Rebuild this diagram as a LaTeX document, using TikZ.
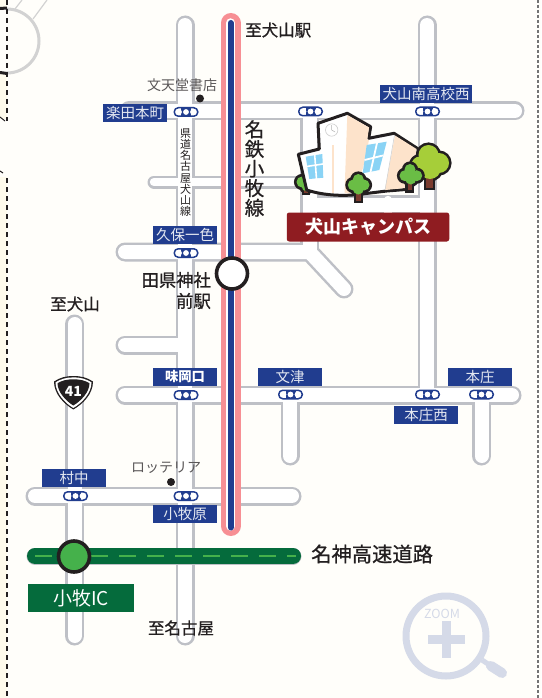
\documentclass[tikz,border=0pt]{standalone}
\usepackage{fontspec}
\setmainfont{Noto Sans CJK JP}
\newfontfamily\mapfont[FakeBold=0.7]{Noto Sans CJK JP}
\definecolor{bgc}{HTML}{FFFEFA}
\definecolor{stripc}{HTML}{FFFBEC}
\definecolor{roadedge}{HTML}{BEC0C6}
\definecolor{railpink}{HTML}{F78F94}
\definecolor{navy}{HTML}{213D8F}
\definecolor{hwdark}{HTML}{056B3C}
\definecolor{hwlight}{HTML}{45B14B}
\definecolor{maroon}{HTML}{8F1C21}
\definecolor{ink}{HTML}{231F20}
\definecolor{zoomc}{HTML}{D5DAE8}
\definecolor{peach}{HTML}{FDE3CB}
\definecolor{winc}{HTML}{8AD3F5}
\definecolor{treea}{HTML}{A6CE39}
\definecolor{treeb}{HTML}{6ABD45}
\definecolor{trunk}{HTML}{7A3B2E}
\tikzset{
  stationlabel/.style={fill=navy,text=white!88!navy,inner sep=0pt,minimum width=64pt,minimum height=18pt,font=\fontsize{14.5}{15}\selectfont},
  maptext/.style={text=ink,inner sep=0pt,font=\mapfont\fontsize{16.5}{20}\selectfont},
  shoptext/.style={text=ink!75,inner sep=0pt,font=\fontsize{14}{15}\selectfont},
  roado/.style={draw=roadedge,line width=19pt,line cap=round},
  roadi/.style={draw=white,line width=14pt,line cap=round},
  thino/.style={draw=roadedge,line width=13pt,line cap=round},
  thini/.style={draw=white,line width=8.4pt,line cap=round},
}
\newcommand{\roadset}[1]{%
  \draw[#1] (185,25) -- (185,636);
  \draw[#1] (74.5,324) -- (74.5,636);
  \draw[#1] (129,111) -- (515,111);
  \draw[#1] (427,25) -- (427,394);
  \draw[#1] (309.5,111) -- (309.5,252);
  \draw[#1] (125,252) -- (309.5,252) -- (344,289);
  \draw[#1] (125,345) -- (185,345);
  \draw[#1] (125,395) -- (512,395);
  \draw[#1] (290,395) -- (290,456);
  \draw[#1] (481.5,395) -- (481.5,456);
  \draw[#1] (35,496) -- (292,496);
  \draw[#1] (310,204.5) -- (427,204.5);
}
\newcommand{\signal}[3]{%
  \node[draw=navy,fill=white,line width=1.5pt,rounded corners=4pt,minimum width=23.5pt,minimum height=8.5pt,inner sep=0pt] (#3) at (#1,#2) {};
  \fill[navy] (#1-5,#2-4) rectangle (#1+5,#2+4);
  \fill[white] (#1-7,#2) circle (2.9pt) (#1,#2) circle (2.9pt) (#1+7,#2) circle (2.9pt);
}
\newcommand{\treeblob}[4]{%
  \foreach \cx/\cy/\rr in {#1} {\fill[ink] (\cx,\cy) circle[radius={(\rr+2.6)*1pt}];}
  \fill[ink] #3;
  \fill[trunk] #4;
  \foreach \cx/\cy/\rr in {#1} {\fill[#2] (\cx,\cy) circle[radius={\rr*1pt}];}
}
\begin{document}
\begin{tikzpicture}[x=1pt,y=-1pt]
\useasboundingbox (0,0) rectangle (541,698);
\fill[bgc] (0,0) rectangle (541,698);
\fill[stripc] (0,0) rectangle (7,119);
\fill[stripc] (0,177) rectangle (7,698);
% top-left inset
\draw[gray!35,line width=1.2pt] (15,9) -- (22,0);
\draw[gray!35,line width=1.2pt] (33,19) -- (47,0);
\fill[bgc] (7,41) circle (32pt);
\draw[gray!35,line width=3pt] (7,9) arc[start angle=90,end angle=-90,radius=32pt];
\draw[ink,line width=3pt] (0,8.5) -- (7,8);
\draw[ink,line width=3pt] (0,72.5) -- (7,73.5);
\draw[ink,line width=1.2pt,dash pattern=on 5pt off 4pt] (7,0) -- (7,121);
\draw[ink,line width=1pt] (0,117) -- (5,121);
\draw[ink,line width=1pt] (0,171) -- (3,173);
\draw[ink,line width=1.2pt,dash pattern=on 5pt off 4pt] (7,178) -- (7,698);
\draw[gray!90!black,line width=2pt,dash pattern=on 3pt off 2pt] (538,0) -- (538,698);
% roads
\roadset{roado}
\draw[thino] (154,182) -- (300,182);
\draw[thino] (388,204) -- (388,222);
\roadset{roadi}
\draw[thini] (154,182) -- (300,182);
\draw[thini] (388,200) -- (388,222);
% highway
\draw[roadedge,line width=17pt,line cap=round] (35,556) -- (293,556);
\draw[hwdark,line width=16pt,line cap=round] (35,556) -- (293,556);
\draw[hwlight,line width=2.6pt,dash pattern=on 16.5pt off 11.5pt] (35,556) -- (296,556);
% rail
\draw[railpink,line width=20pt,line cap=round] (230.7,23) -- (230.7,526);
\draw[white,line width=9.5pt,line cap=round] (230.7,23) -- (230.7,526);
\draw[navy,line width=6pt,line cap=round] (230.7,23) -- (230.7,527.5);
% route shield
\path[fill=ink] (54,381.5) .. controls (60,377.5) and (66,376) .. (73.3,376) .. controls (81,376) and (87,377.5) .. (93,381.5) .. controls (93,394) and (83,404) .. (73.3,409.5) .. controls (64,404) and (54,394) .. (54,381.5) -- cycle;
\path[fill=white] (55.5,382.3) .. controls (61,379) and (66,377.4) .. (73.3,377.4) .. controls (81,377.4) and (86,379) .. (91.5,382.3) .. controls (91.5,393) and (82,403) .. (73.3,408) .. controls (65,403) and (55.5,393) .. (55.5,382.3) -- cycle;
\path[fill=ink] (57.5,383.2) .. controls (62,380.5) and (67,379.3) .. (73.3,379.3) .. controls (80,379.3) and (85,380.5) .. (89.5,383.2) .. controls (89.5,392) and (81,401) .. (73.3,405.5) .. controls (66,401) and (57.5,392) .. (57.5,383.2) -- cycle;
\node[inner sep=0pt,text=white,font=\fontsize{14}{14}\bfseries\selectfont] (shield) at (73.3,391.5) {41};
% signals
\signal{186}{112}{s1}
\signal{310.5}{111.5}{s2}
\signal{427.5}{111.5}{s3}
\signal{186}{253}{s4}
\signal{186}{395}{s5}
\signal{290.5}{394.5}{s6}
\signal{427.5}{394.5}{s7}
\signal{481.5}{394.5}{s8}
\signal{75.5}{496}{s9}
\signal{186}{496}{s10}
% circles
\node[circle,draw=ink,fill=white,line width=3.6pt,minimum size=31pt,inner sep=0pt] (taga) at (232,273.5) {};
\node[circle,draw=ink,fill=hwlight,line width=3.6pt,minimum size=31pt,inner sep=0pt] (komakiic) at (74,556.5) {};
% station labels
\node[stationlabel,minimum width=64pt] (l1) at (135,113) {楽田本町};
\node[stationlabel] (l2) at (185,235) {久保一色};
\node[stationlabel,text=white,font=\fontsize{13.3}{14}\bfseries\selectfont] (l3) at (185,377) {味岡口};
\node[stationlabel] (l4) at (290,377) {文津};
\node[stationlabel] (l5) at (480,377) {本庄};
\node[stationlabel] (l6) at (426,415) {本庄西};
\node[stationlabel,minimum width=92pt] (l7) at (426,94) {犬山南高校西};
\node[stationlabel] (l8) at (74,478) {村中};
\node[stationlabel] (l9) at (185,514) {小牧原};
\node[fill=hwdark,text=white,inner sep=0pt,minimum width=106pt,minimum height=28pt,font=\fontsize{19}{20}\selectfont] (ic) at (81,598) {小牧IC};
% shops
\node[shoptext] (shop1) at (182,85) {文天堂書店};
\node[circle,fill=ink,inner sep=0pt,minimum size=8pt] (dot1) at (200,98.5) {};
\node[shoptext] (shop2) at (166,468) {ロッテリア};
\node[circle,fill=ink,inner sep=0pt,minimum size=8pt] (dot2) at (171,482) {};
% map text
\node[maptext,anchor=west] (t1) at (245,30) {至犬山駅};
\node[maptext,align=center,font=\mapfont\fontsize{19.5}{19.6}\selectfont] (t2) at (254.5,168.5) {名\\鉄\\小\\牧\\線};
\node[maptext,align=center,font=\fontsize{11}{11.1}\selectfont] (t3) at (185.5,172.5) {県\\道\\名\\古\\屋\\犬\\山\\線};
\node[maptext,anchor=east,font=\mapfont\fontsize{17.3}{20}\selectfont] (t4) at (211,280) {田県神社};
\node[maptext,anchor=east,font=\mapfont\fontsize{17.3}{20}\selectfont] (t5) at (211,301) {前駅};
\node[maptext] (t6) at (75,304) {至犬山};
\node[maptext,font=\mapfont\fontsize{16.5}{20}\selectfont] (t7) at (181,628) {至名古屋};
\node[maptext,anchor=west,font=\mapfont\fontsize{20.3}{22}\selectfont] (t8) at (311,554) {名神高速道路};
% building
\treeblob{302/182/5.5,307/186/5.5}{treeb}{(302,186) rectangle (310,195)}{(303.5,186) rectangle (308,192.5)}
\path[fill=white,draw=ink,line width=3pt,line join=round] (298.3,154.3) -- (319.3,149) -- (318,123.3) -- (347.3,113.3) -- (370.7,126.7) -- (368.7,138.3) -- (394,133.3) -- (418.3,149) -- (412,189) -- (386.7,191) -- (358,194.5) .. controls (345,196) and (325,196) .. (306.7,190) -- cycle;
\fill[peach] (347.3,115) -- (369,127.5) -- (367.3,139.5) -- (369,140) -- (363,168) -- (353,193) -- (344.5,193.5) -- cycle;
\fill[peach] (395,135.5) -- (416.5,149) -- (410.5,187.5) -- (385,190) -- cycle;
\draw[gray!40,line width=.5pt] (394.5,135) -- (385,190);
\fill[peach] (332,145) rectangle (334,192.5);
\draw[gray!40,line width=.6pt,fill=white] (331.7,130) circle (6.2pt);
\draw[gray!60,line width=.5pt] (331.7,125) -- (331.7,130) -- (335,132);
\fill[winc] (305.7,156.7) -- (322.3,154) -- (323.3,177.7) -- (309.3,179) -- cycle;
\draw[white,line width=1.6pt] (314.7,155) -- (316.5,179);
\draw[white,line width=1.6pt] (306.5,166.5) -- (323,164);
\fill[winc] (366.7,145) -- (386.7,141.7) -- (379.3,170) -- (362.7,173.3) -- cycle;
\draw[white,line width=1.8pt] (377,143) -- (370.5,172);
\draw[white,line width=1.8pt] (364.5,160) -- (383,155.5);
\treeblob{428.5/155/10,439/163/10,430/168/11,420/165/8.5}{treea}{(423.5,170) rectangle (434.5,190)}{(426,175) rectangle (432.5,187.5)}
\treeblob{410/169.5/5.5,405/175.7/5.5,416.7/175.7/5.5,410.7/179/5.5}{treeb}{(405,182) rectangle (414,192.5)}{(407.5,182) rectangle (411.5,190)}
\treeblob{358.3/179.5/5.5,353.3/185/5.5,364/185/5.5,358.3/189/5.5}{treeb}{(354,192) rectangle (362.5,203)}{(356,193) rectangle (360.5,200.5)}
\node[fill=maroon,text=white,rounded corners=2.5pt,inner sep=0pt,minimum width=162.5pt,minimum height=29pt,font=\fontsize{18}{20}\bfseries\selectfont] (campus) at (368,227) {犬山キャンパス};
% zoom icon
\draw[zoomc,line width=7pt] (446,636) circle (40pt);
\draw[zoomc,line width=5pt] (482,660) -- (491,666);
\draw[zoomc,line width=10pt,line cap=round] (491,666) -- (502,673);
\fill[zoomc] (427.7,635) rectangle (465,644);
\fill[zoomc] (441.7,621) rectangle (450.7,658);
\node[inner sep=0pt,text=zoomc,font=\fontsize{12.5}{13}\selectfont] (zoomlabel) at (442,614) {ZOOM};
\end{tikzpicture}
\end{document}
